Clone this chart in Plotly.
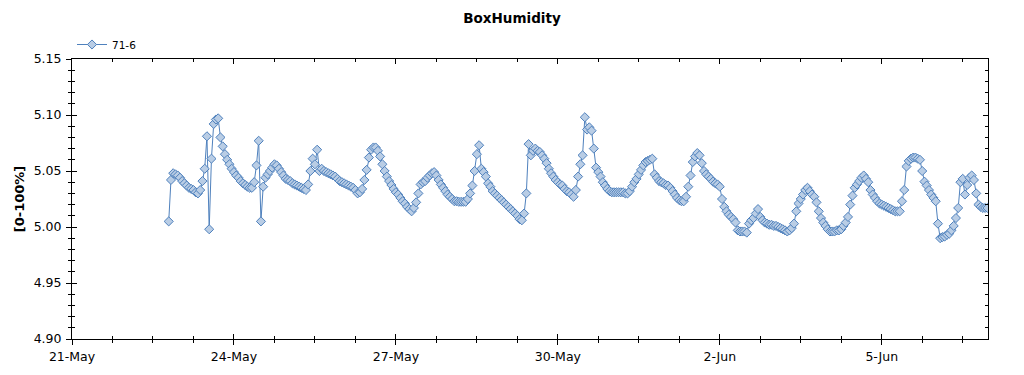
import pandas as pd
import plotly.graph_objects as go

# ---- data (hourly readings) ----
series_name = "71-6"
start_time = "2020-05-22 19:00"
humidity_71_6 = [
    5.005, 5.042, 5.048, 5.047, 5.046, 5.044, 5.041, 5.039, 5.037, 5.035,
    5.034, 5.033, 5.031, 5.030, 5.033, 5.041, 5.052, 5.081, 4.998, 5.061,
    5.092, 5.096, 5.097, 5.080, 5.072, 5.065, 5.060, 5.056, 5.052, 5.049,
    5.046, 5.044, 5.041, 5.039, 5.0375, 5.036, 5.035, 5.035, 5.040, 5.055,
    5.077, 5.005, 5.036, 5.044, 5.047, 5.050, 5.053, 5.056, 5.055, 5.052,
    5.049, 5.046, 5.043, 5.042, 5.041, 5.039, 5.038, 5.037, 5.036, 5.035,
    5.034, 5.033, 5.038, 5.050, 5.061, 5.056, 5.069, 5.050, 5.052, 5.050,
    5.049, 5.048, 5.047, 5.046, 5.045, 5.043, 5.041, 5.040, 5.039, 5.038,
    5.037, 5.036, 5.035, 5.033, 5.030, 5.031, 5.034, 5.042, 5.051, 5.062,
    5.069, 5.071, 5.071, 5.068, 5.063, 5.056, 5.050, 5.045, 5.041, 5.0375,
    5.034, 5.031, 5.029, 5.026, 5.023, 5.021, 5.018, 5.016, 5.014, 5.017,
    5.022, 5.030, 5.038, 5.040, 5.041, 5.044, 5.046, 5.048, 5.049, 5.046,
    5.042, 5.038, 5.035, 5.032, 5.029, 5.027, 5.025, 5.023, 5.023, 5.0225,
    5.0225, 5.0225, 5.0225, 5.025, 5.030, 5.037, 5.050, 5.065, 5.073, 5.052,
    5.049, 5.045, 5.039, 5.036, 5.032, 5.030, 5.028, 5.026, 5.024, 5.022,
    5.020, 5.018, 5.016, 5.014, 5.012, 5.010, 5.007, 5.006, 5.012, 5.030,
    5.074, 5.064, 5.068, 5.070, 5.068, 5.067, 5.064, 5.061, 5.057, 5.052,
    5.048, 5.045, 5.042, 5.040, 5.038, 5.037, 5.034, 5.032, 5.031, 5.029,
    5.027, 5.033, 5.045, 5.056, 5.064, 5.098, 5.087, 5.089, 5.086, 5.070,
    5.053, 5.049, 5.045, 5.040, 5.037, 5.034, 5.032, 5.031, 5.031, 5.031,
    5.031, 5.031, 5.031, 5.030, 5.030, 5.032, 5.036, 5.040, 5.043, 5.047,
    5.051, 5.055, 5.058, 5.059, 5.060, 5.061, 5.047, 5.044, 5.041, 5.040,
    5.039, 5.0375, 5.037, 5.035, 5.032, 5.029, 5.026, 5.024, 5.023, 5.023,
    5.027, 5.036, 5.046, 5.058, 5.063, 5.066, 5.064, 5.057, 5.050, 5.047,
    5.045, 5.043, 5.0405, 5.039, 5.038, 5.036, 5.025, 5.018, 5.014, 5.011,
    5.009, 5.007, 5.004, 4.997, 4.996, 4.996, 4.996, 4.995, 5.003, 5.006,
    5.008, 5.012, 5.016, 5.009, 5.006, 5.004, 5.003, 5.002, 5.002, 5.001,
    5.001, 5.000, 4.999, 4.998, 4.997, 4.996, 4.997, 4.999, 5.003, 5.014,
    5.021, 5.025, 5.029, 5.033, 5.035, 5.032, 5.029, 5.027, 5.022, 5.014,
    5.008, 5.004, 5.001, 4.998, 4.996, 4.996, 4.996, 4.997, 4.997, 4.998,
    5.001, 5.004, 5.009, 5.020, 5.028, 5.035, 5.038, 5.041, 5.044, 5.046,
    5.043, 5.040, 5.033, 5.029, 5.026, 5.023, 5.021, 5.020, 5.019, 5.018,
    5.017, 5.016, 5.015, 5.014, 5.014, 5.014, 5.023, 5.033, 5.054, 5.059,
    5.061, 5.062, 5.062, 5.061, 5.060, 5.050, 5.0405, 5.037, 5.033, 5.029,
    5.026, 5.023, 5.003, 4.990, 4.991, 4.9915, 4.993, 4.994, 4.997, 5.001,
    5.008, 5.017, 5.040, 5.043, 5.029, 5.0375, 5.044, 5.046, 5.042, 5.030,
    5.020, 5.018, 5.017, 5.017, 5.017,
]
times = pd.date_range(start_time, periods=len(humidity_71_6), freq="h")

x_range = ["2020-05-21 00:00", "2020-06-06 23:15"]
y_range = [4.90, 5.15]
DAY_MS = 86400000

font_family = "DejaVu Sans"

fig = go.Figure()
fig.add_trace(go.Scatter(
    x=times, y=humidity_71_6, name=series_name,
    mode="lines+markers",
    line=dict(color="#4f81bd", width=1),
    marker=dict(symbol="diamond", size=7, color="#b9cde5",
                line=dict(color="#4f81bd", width=1)),
))
# invisible helper trace so the outside-tick overlay axes are drawn
fig.add_trace(go.Scatter(
    x=[times[0]], y=[humidity_71_6[0]], xaxis="x2", yaxis="y2",
    mode="markers", marker=dict(opacity=0), showlegend=False, hoverinfo="skip",
))

common_x = dict(type="date", range=x_range, tick0="2020-05-21", dtick=3 * DAY_MS,
                showgrid=False, zeroline=False)
common_y = dict(range=y_range, tick0=4.90, dtick=0.05, showgrid=False, zeroline=False)

fig.update_layout(
    width=1024, height=375,
    margin=dict(l=72, r=36, t=59, b=36, autoexpand=False),
    paper_bgcolor="white", plot_bgcolor="white",
    font=dict(family=font_family, size=12.5, color="black"),
    title=dict(text="<b>BoxHumidity</b>", x=0.5, xref="container", xanchor="center",
               y=1 - 18 / 375, yref="container", yanchor="middle",
               font=dict(size=13.5, family=font_family, color="black")),
    showlegend=True,
    legend=dict(orientation="h", x=0, xanchor="left", y=1.0, yanchor="bottom",
                font=dict(size=10.5, family=font_family), itemwidth=30,
                bgcolor="rgba(0,0,0,0)"),
    xaxis=dict(**common_x, ticks="inside", ticklen=5, tickcolor="black",
               minor=dict(dtick=DAY_MS * 0.75, tick0="2020-05-21", ticks="inside",
                          ticklen=3, tickcolor="black", showgrid=False),
               showline=True, linecolor="black", linewidth=1, mirror="ticks",
               tickformat="%-d-%b", ticklabelstandoff=6),
    xaxis2=dict(**common_x, overlaying="x", anchor="y", side="bottom",
                ticks="outside", ticklen=5, tickcolor="black",
                minor=dict(dtick=DAY_MS * 0.75, tick0="2020-05-21", ticks="outside",
                           ticklen=3, tickcolor="black", showgrid=False),
                showline=False, showticklabels=False),
    yaxis=dict(**common_y, ticks="inside", ticklen=5, tickcolor="black",
               minor=dict(dtick=0.01, ticks="inside", ticklen=3, tickcolor="black",
                          showgrid=False),
               showline=True, linecolor="black", linewidth=1, mirror="ticks",
               tickformat=".2f", ticklabelstandoff=7,
               title=dict(text="<b>[0-100%]</b>", standoff=6,
                          font=dict(size=13, family=font_family))),
    yaxis2=dict(**common_y, overlaying="y", anchor="x", side="left",
                ticks="outside", ticklen=5, tickcolor="black",
                minor=dict(dtick=0.01, ticks="outside", ticklen=3, tickcolor="black",
                           showgrid=False),
                showline=False, showticklabels=False),
)

fig.write_html("out.html",
               config={"displayModeBar": False},
               post_script="document.body.style.margin='0';document.body.style.overflow='hidden';")
